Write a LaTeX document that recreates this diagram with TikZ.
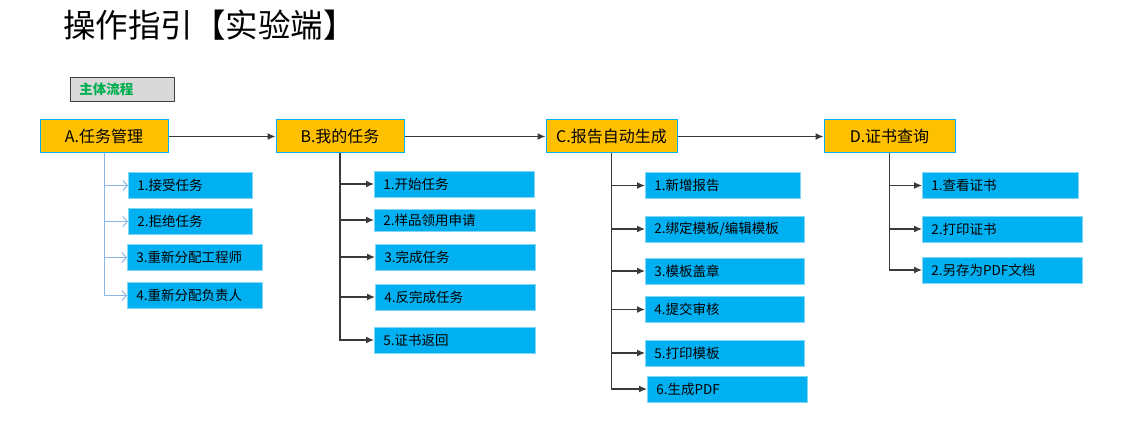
\documentclass[tikz,border=0pt]{standalone}
\usepackage{fontspec}
\setmainfont{Noto Sans CJK SC}
\usetikzlibrary{positioning, arrows.meta}
\definecolor{gold}{HTML}{FFC000}
\definecolor{skyblue}{HTML}{00B0F0}
\definecolor{linkgray}{HTML}{3A3A3A}
\definecolor{paleblue}{HTML}{8DB4E2}
\definecolor{flowgreen}{HTML}{00B050}
\definecolor{boxgray}{HTML}{D9D9D9}
\tikzset{
  mainbox/.style={draw=skyblue, fill=gold, line width=1pt, minimum width=#1, minimum height=33pt, inner sep=0pt, font=\fontsize{16}{16}\selectfont},
  subbox/.style={draw=skyblue!50, fill=skyblue, line width=.6pt, anchor=west, minimum height=26pt, text width=#1, inner xsep=9pt, inner ysep=0pt, align=left, font=\fontsize{13.5}{14}\selectfont},
  tolink/.style={linkgray, line width=1.2pt, -{Latex[length=8pt, width=7pt]}},
  palelink/.style={paleblue, line width=1pt, -{Straight Barb[length=4.5pt, width=10pt]}}
}
\begin{document}
\begin{tikzpicture}[x=1pt, y=-1pt]
  \useasboundingbox (0,0) rectangle (1139,422);

  \node[anchor=west, inner sep=0pt, font=\fontsize{32.5}{33}\selectfont] (title) at (63,25) {操作指引【实验端】};
  \node[draw=black!75, fill=boxgray, line width=.8pt, anchor=north west, minimum height=24pt, text width=86pt, inner xsep=9pt, inner ysep=0pt, align=left, text=flowgreen, font=\bfseries\fontsize{13.5}{14}\selectfont] (flow) at (70,77) {主体流程};

  \node[mainbox=128pt] (A) at (104,136.5) {A.任务管理};
  \node[mainbox=128pt] (B) at (340,136.5) {B.我的任务};
  \node[mainbox=131pt] (C) at (611.5,136.5) {C.报告自动生成};
  \node[mainbox=131pt] (D) at (889.5,136.5) {D.证书查询};

  \draw[linkgray, line width=1.4pt, -{Latex[length=8pt, width=7pt]}] (A) -- (B);
  \draw[linkgray, line width=1.4pt, -{Latex[length=8pt, width=7pt]}] (B) -- (C);
  \draw[linkgray, line width=1.4pt, -{Latex[length=8pt, width=7pt]}] (C) -- (D);

  \node[subbox=106pt] (a1) at (128,185.5) {1.接受任务};
  \node[subbox=106pt] (a2) at (128,221.5) {2.拒绝任务};
  \node[subbox=117pt] (a3) at (127,257.5) {3.重新分配工程师};
  \node[subbox=117pt] (a4) at (127,295.5) {4.重新分配负责人};

  \node[subbox=142pt] (b1) at (374,184) {1.开始任务};
  \node[subbox=143pt, minimum height=22pt] (b2) at (374,220) {2.样品领用申请};
  \node[subbox=142pt] (b3) at (375,257) {3.完成任务};
  \node[subbox=142pt] (b4) at (375,297) {4.反完成任务};
  \node[subbox=143pt] (b5) at (374,340) {5.证书返回};

  \node[subbox=137pt] (c1) at (645,185.5) {1.新增报告};
  \node[subbox=141pt] (c2) at (645,229) {2.绑定模板/编辑模板};
  \node[subbox=141pt] (c3) at (645,271) {3.模板盖章};
  \node[subbox=141pt] (c4) at (645,309.5) {4.提交审核};
  \node[subbox=141pt] (c5) at (645,353) {5.打印模板};
  \node[subbox=142pt] (c6) at (647,389) {6.生成PDF};

  \node[subbox=138pt] (d1) at (922,185.5) {1.查看证书};
  \node[subbox=142pt] (d2) at (922,229) {2.打印证书};
  \node[subbox=142pt] (d3) at (922,270) {2.另存为PDF文档};

  \foreach \n in {a1,a2,a3,a4}
    \draw[palelink] (A.south) |- (\n.west);
  \foreach \n in {b1,b2,b3,b4,b5}
    \draw[tolink] (B.south) |- (\n.west);
  \foreach \n in {c1,c2,c3,c4,c5,c6}
    \draw[tolink] (C.south) |- (\n.west);
  \foreach \n in {d1,d2,d3}
    \draw[tolink] (D.south) |- (\n.west);
\end{tikzpicture}
\end{document}
